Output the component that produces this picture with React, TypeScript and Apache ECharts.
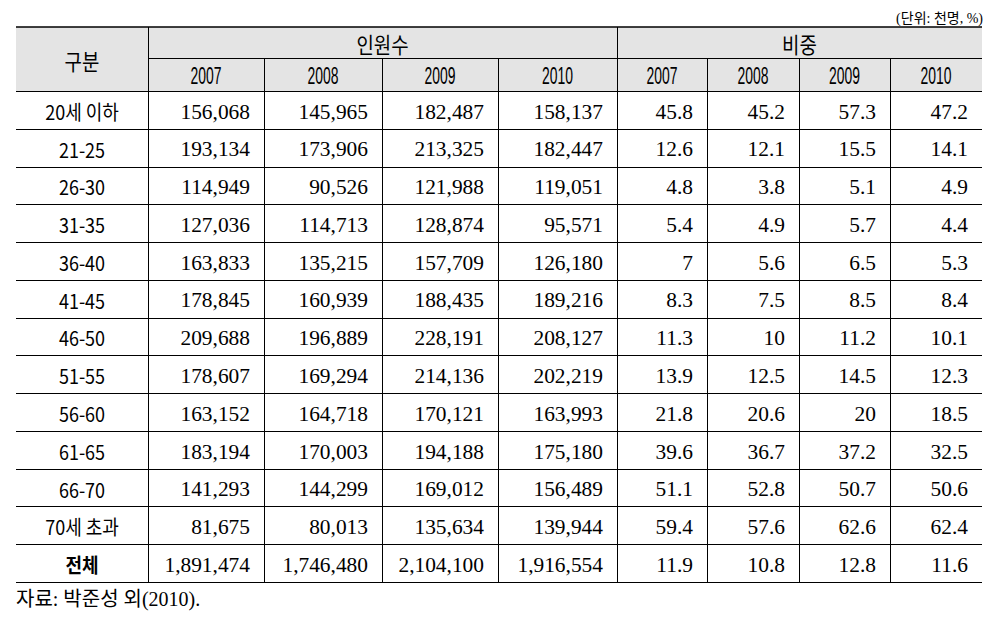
import React, { useEffect, useRef } from 'react';
import * as echarts from 'echarts';

// ---------- data ----------
const unitNote = '(단위: 천명, %)';
const sourceNote = '자료: 박준성 외(2010).';
const stubHeader = '구분';
const groupHeaders = ['인원수', '비중'];
const years = ['2007', '2008', '2009', '2010'];
const ageGroups = ['20세 이하', '21-25', '26-30', '31-35', '36-40', '41-45', '46-50', '51-55', '56-60', '61-65', '66-70', '70세 초과', '전체'];

const count2007 = [156068, 193134, 114949, 127036, 163833, 178845, 209688, 178607, 163152, 183194, 141293, 81675, 1891474];
const count2008 = [145965, 173906, 90526, 114713, 135215, 160939, 196889, 169294, 164718, 170003, 144299, 80013, 1746480];
const count2009 = [182487, 213325, 121988, 128874, 157709, 188435, 228191, 214136, 170121, 194188, 169012, 135634, 2104100];
const count2010 = [158137, 182447, 119051, 95571, 126180, 189216, 208127, 202219, 163993, 175180, 156489, 139944, 1916554];

const share2007 = [45.8, 12.6, 4.8, 5.4, 7, 8.3, 11.3, 13.9, 21.8, 39.6, 51.1, 59.4, 11.9];
const share2008 = [45.2, 12.1, 3.8, 4.9, 5.6, 7.5, 10, 12.5, 20.6, 36.7, 52.8, 57.6, 10.8];
const share2009 = [57.3, 15.5, 5.1, 5.7, 6.5, 8.5, 11.2, 14.5, 20, 37.2, 50.7, 62.6, 12.8];
const share2010 = [47.2, 14.1, 4.9, 4.4, 5.3, 8.4, 10.1, 12.3, 18.5, 32.5, 50.6, 62.4, 11.6];

// ---------- layout (table units, mapped by the axes) ----------
const COL_EDGES = [0, 132, 248, 366, 482, 601, 691, 783, 874, 966];
const TABLE_W = 966;
const HEAD_MID = 31;
const HEAD_BOTTOM = 64;
const TABLE_BOTTOM = 555;

const KO = '"Noto Sans CJK KR", "Noto Sans", sans-serif';
const SERIF = '"Liberation Serif", "Times New Roman", serif';
const NUMSANS = '"Liberation Sans", Arial, sans-serif';

type Cell = { x0: number; x1: number; y0: number; y1: number; text: string; kind: string };

function buildCells(): Cell[] {
  const cells: Cell[] = [];
  const nRows = ageGroups.length;
  const rowH = (TABLE_BOTTOM - HEAD_BOTTOM) / nRows;
  cells.push({ x0: COL_EDGES[0], x1: COL_EDGES[1], y0: 0, y1: HEAD_BOTTOM, text: stubHeader, kind: 'head' });
  cells.push({ x0: COL_EDGES[1], x1: COL_EDGES[5], y0: 0, y1: HEAD_MID, text: groupHeaders[0], kind: 'head' });
  cells.push({ x0: COL_EDGES[5], x1: COL_EDGES[9], y0: 0, y1: HEAD_MID, text: groupHeaders[1], kind: 'head' });
  for (let g = 0; g < 2; g++) {
    years.forEach((y, i) => {
      const c = 1 + g * 4 + i;
      cells.push({ x0: COL_EDGES[c], x1: COL_EDGES[c + 1], y0: HEAD_MID, y1: HEAD_BOTTOM, text: y, kind: 'year' });
    });
  }
  const counts = [count2007, count2008, count2009, count2010];
  const shares = [share2007, share2008, share2009, share2010];
  ageGroups.forEach((lab, r) => {
    const y0 = HEAD_BOTTOM + r * rowH;
    const y1 = y0 + rowH;
    cells.push({ x0: COL_EDGES[0], x1: COL_EDGES[1], y0, y1, text: lab, kind: r === nRows - 1 ? 'labelBold' : 'label' });
    counts.forEach((arr, i) => {
      cells.push({ x0: COL_EDGES[1 + i], x1: COL_EDGES[2 + i], y0, y1, text: arr[r].toLocaleString('en-US'), kind: 'num' });
    });
    shares.forEach((arr, i) => {
      cells.push({ x0: COL_EDGES[5 + i], x1: COL_EDGES[6 + i], y0, y1, text: String(arr[r]), kind: 'num' });
    });
  });
  return cells;
}

function buildRules(): number[][] {
  const nRows = ageGroups.length;
  const rowH = (TABLE_BOTTOM - HEAD_BOTTOM) / nRows;
  const rules: number[][] = [];
  rules.push([0, 0, TABLE_W, 0, 1.5]);
  rules.push([COL_EDGES[1], HEAD_MID, TABLE_W, HEAD_MID, 1]);
  for (let r = 0; r <= nRows; r++) {
    const y = HEAD_BOTTOM + r * rowH;
    rules.push([0, y, TABLE_W, y, 1]);
  }
  rules.push([COL_EDGES[1], 0, COL_EDGES[1], TABLE_BOTTOM, 1]);
  rules.push([COL_EDGES[5], 0, COL_EDGES[5], TABLE_BOTTOM, 1]);
  [2, 3, 4, 6, 7, 8].forEach((c) => rules.push([COL_EDGES[c], HEAD_MID, COL_EDGES[c], TABLE_BOTTOM, 1]));
  return rules;
}

const crisp = (v: number, w: number) => (Math.round(w) % 2 === 1 ? Math.round(v) + 0.5 : Math.round(v));

export default function App() {
  const ref = useRef<HTMLDivElement>(null);
  useEffect(() => {
    document.body.style.margin = '0';
    if (!ref.current) return;
    const chart = echarts.init(ref.current, undefined, { renderer: 'svg' });
    const cells = buildCells();
    const rules = buildRules();

    const textStyleFor = (kind: string) => {
      switch (kind) {
        case 'head':
          return { font: `normal 22px ${KO}`, scaleX: 0.86, align: 'center', dy: 1 };
        case 'year':
          return { font: `normal 24px ${NUMSANS}`, scaleX: 0.58, align: 'center', dy: 1 };
        case 'label':
          return { font: `normal 20px ${KO}`, scaleX: 0.9, align: 'center', dy: 1 };
        case 'labelBold':
          return { font: `bold 20px ${KO}`, scaleX: 0.9, align: 'center', dy: 1 };
        default:
          return { font: `normal 20px ${SERIF}`, scaleX: 1.07, align: 'right', dy: 2 };
      }
    };

    chart.setOption({
      animation: false,
      backgroundColor: '#ffffff',
      title: [
        {
          text: unitNote,
          right: 10,
          top: 11,
          padding: 0,
          textStyle: { fontSize: 14, fontWeight: 'normal', fontFamily: SERIF + ', ' + KO, color: '#000' },
        },
        {
          text: sourceNote,
          left: 16,
          top: 589,
          padding: 0,
          textStyle: { fontSize: 20, fontWeight: 'normal', fontFamily: SERIF + ', ' + KO, color: '#000' },
        },
      ],
      grid: { left: 16, top: 27, width: TABLE_W, height: TABLE_BOTTOM, containLabel: false },
      xAxis: { type: 'value', min: 0, max: TABLE_W, show: false },
      yAxis: { type: 'value', min: 0, max: TABLE_BOTTOM, inverse: true, show: false },
      series: [
        {
          type: 'custom',
          name: 'headerFill',
          silent: true,
          clip: false,
          data: [[0, TABLE_W, 0, HEAD_BOTTOM]],
          renderItem: (params: any, api: any) => {
            const p0 = api.coord([api.value(0), api.value(2)]);
            const p1 = api.coord([api.value(1), api.value(3)]);
            return {
              type: 'rect',
              shape: { x: p0[0], y: p0[1], width: p1[0] - p0[0], height: p1[1] - p0[1] },
              style: { fill: '#e4e4e4' },
            };
          },
        },
        {
          type: 'custom',
          name: 'rules',
          silent: true,
          clip: false,
          data: rules,
          renderItem: (params: any, api: any) => {
            const w = api.value(4);
            const a = api.coord([api.value(0), api.value(1)]);
            const b = api.coord([api.value(2), api.value(3)]);
            const horiz = Math.abs(a[1] - b[1]) < 0.01;
            const shape = horiz
              ? { x1: a[0], y1: crisp(a[1], w), x2: b[0], y2: crisp(b[1], w) }
              : { x1: crisp(a[0], w), y1: a[1], x2: crisp(b[0], w), y2: b[1] };
            return { type: 'line', shape, style: { stroke: '#000', lineWidth: w } };
          },
        },
        {
          type: 'custom',
          name: 'cells',
          silent: true,
          clip: false,
          data: cells.map((c) => [c.x0, c.x1, c.y0, c.y1]),
          renderItem: (params: any, api: any) => {
            const cell = cells[params.dataIndex];
            const p0 = api.coord([api.value(0), api.value(2)]);
            const p1 = api.coord([api.value(1), api.value(3)]);
            const ts = textStyleFor(cell.kind);
            const x = ts.align === 'center' ? (p0[0] + p1[0]) / 2 : p1[0] - 14;
            const y = (p0[1] + p1[1]) / 2 + ts.dy;
            return {
              type: 'text',
              x,
              y,
              scaleX: ts.scaleX,
              style: {
                x: 0,
                y: 0,
                text: cell.text,
                font: ts.font,
                fill: '#000',
                align: ts.align,
                verticalAlign: 'middle',
                textAlign: ts.align,
                textVerticalAlign: 'middle',
              },
            };
          },
        },
      ],
    });
    return () => chart.dispose();
  }, []);
  return <div ref={ref} style={{ position: 'fixed', left: 0, top: 0, width: 993, height: 620, background: '#fff' }} />;
}
